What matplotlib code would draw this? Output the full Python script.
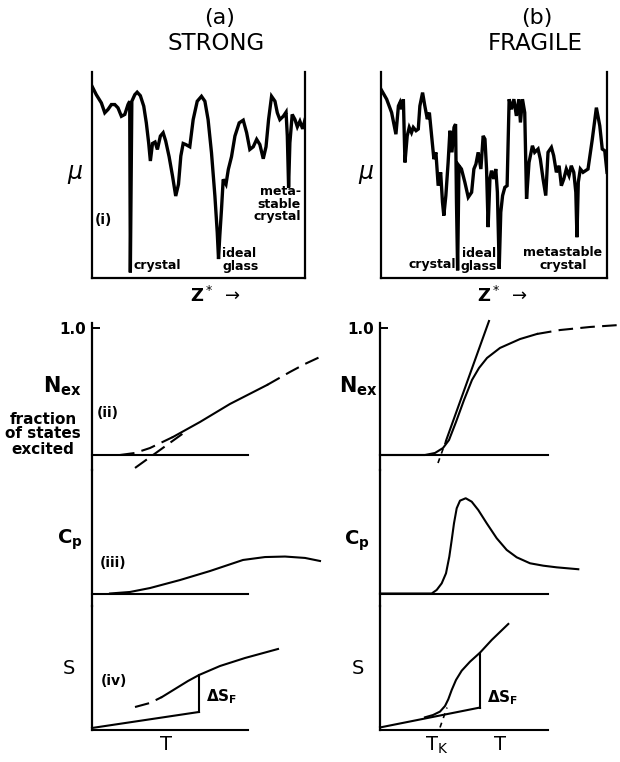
import matplotlib
matplotlib.use("Agg")
import matplotlib.pyplot as plt

W, H = 620, 762

# (i) energy landscapes: mu against configuration coordinate Z* (arbitrary 0-100 units)
strong_z = [0, 2.0, 4.4, 6.0, 7.5, 9.1, 10.7, 12.2, 13.8, 15.4, 16.9, 17.7, 18.0, 18.7,
            20.1, 21.2, 22.7, 24.3, 25.5, 26.6, 27.4, 28.4, 29.6, 30.7, 32.1, 33.4, 34.6,
            36.2, 37.8, 39.3, 40.6, 41.7, 42.8, 44.0, 45.9, 47.5, 49.4, 51.4, 53.0, 54.5,
            56.1, 57.7, 58.8, 59.4, 60.0, 60.8, 61.6, 62.9, 64.0, 65.5, 67.1, 69.1, 71.0,
            72.6, 74.1, 75.7, 77.3, 78.8, 80.4, 81.7, 82.9, 84.3, 85.9, 87.0, 88.2, 89.8,
            91.1, 91.7, 92.3, 92.9, 94.0, 95.3, 96.4, 97.6, 98.9, 100]
strong_mu = [93.1, 89.0, 85.0, 80.2, 81.8, 84.2, 84.2, 82.6, 78.5, 79.4, 84.2, 85.8, 2.7, 85.8,
             89.0, 90.2, 88.5, 83.4, 75.3, 65.6, 56.8, 65.3, 66.0, 62.4, 68.9, 70.5, 66.5,
             58.9, 49.5, 39.8, 45.5, 59.2, 65.3, 64.8, 63.7, 76.9, 85.8, 88.2, 85.8, 76.9,
             60.8, 39.8, 22.1, 9.2, 20.5, 33.4, 47.9, 45.5, 52.7, 58.9, 68.9, 75.3, 76.6,
             70.5, 62.4, 63.7, 67.3, 64.8, 57.9, 63.7, 76.9, 88.2, 85.8, 80.2, 76.9, 78.5,
             80.5, 68.9, 43.9, 65.6, 79.4, 76.9, 73.4, 76.1, 72.4, 76.9]

fragile_z = [0, 2.5, 4.7, 6.6, 7.7, 8.4, 9.1, 9.9, 10.6, 11.6, 12.5, 13.5, 14.3, 15.5, 16.5,
             17.2, 18.4, 19.4, 20.5, 21.4, 22.4, 23.4, 24.3, 25.3, 26.4, 27.2, 27.8, 28.7,
             29.7, 30.5, 31.4, 32.3, 33.0, 33.4, 33.9, 34.5, 35.6, 37.1, 38.6, 40.1, 41.1,
             42.0, 43.0, 44.2, 45.2, 46.0, 46.7, 47.4, 48.2, 48.9, 49.9, 50.8, 51.5, 52.3,
             53.0, 53.8, 54.8, 55.8, 56.7, 57.7, 58.8, 59.9, 61.0, 61.7, 62.6, 63.6, 64.4,
             65.5, 67.0, 68.0, 69.5, 70.5, 71.7, 72.9, 73.9, 75.4, 76.4, 77.6, 78.8, 79.8,
             80.9, 82.0, 83.2, 84.2, 85.3, 86.2, 86.7, 87.3, 88.2, 89.4, 91.6, 93.5, 95.3,
             96.8, 97.9, 99.0, 100]
fragile_mu = [91.6, 86.8, 80.3, 69.8, 83.5, 85.2, 81.9, 86.8, 56.1, 69.0, 73.1, 70.6, 73.1, 71.5,
              72.3, 83.5, 90.0, 83.5, 77.1, 80.3, 69.0, 57.7, 61.0, 44.8, 51.3, 36.8, 30.3,
              40.0, 56.1, 71.5, 61.0, 73.1, 74.7, 36.8, 3.7, 54.5, 52.9, 46.5, 39.2, 41.6,
              52.9, 55.3, 61.0, 52.9, 69.0, 67.4, 52.9, 24.7, 48.1, 52.1, 48.1, 52.9, 41.6,
              4.5, 31.9, 40.0, 44.0, 44.8, 86.8, 81.9, 86.8, 78.7, 86.8, 75.5, 86.8, 80.3,
              38.4, 56.1, 64.2, 61.0, 62.6, 57.7, 48.1, 40.0, 61.0, 63.4, 59.4, 51.3, 54.5,
              44.8, 48.1, 52.9, 49.7, 54.5, 51.3, 41.6, 19.8, 46.5, 52.9, 51.3, 52.9, 67.4,
              82.7, 73.9, 62.6, 61.8, 51.3]

# (ii) fraction of states excited vs T
strong_nex_T = [0.28, 0.43, 0.58, 0.81, 1.08, 1.38, 1.75, 1.98, 2.13, 2.28]
strong_nex = [0.0, 0.016, 0.055, 0.142, 0.260, 0.402, 0.551, 0.654, 0.717, 0.772]
strong_tan_T = [0.43, 0.93]
strong_tan = [-0.102, 0.181]

fragile_nex_T = [0, 0.45, 0.55, 0.63, 0.69, 0.76, 0.84, 0.92, 0.99, 1.07, 1.20, 1.40, 1.57,
                 1.80, 2.10, 2.40]
fragile_nex = [0, 0, 0.016, 0.055, 0.118, 0.260, 0.433, 0.591, 0.685, 0.764, 0.843, 0.913,
               0.953, 0.984, 1.008, 1.024]
fragile_tan_T = [0.58, 0.66, 1.09]
fragile_tan = [-0.063, 0.112, 1.055]

# (iii) heat capacity
strong_cp_T = [0.18, 0.38, 0.58, 0.88, 1.18, 1.51, 1.73, 1.93, 2.13, 2.28]
strong_cp = [0, 0.012, 0.043, 0.106, 0.177, 0.264, 0.287, 0.291, 0.280, 0.256]
fragile_cp_T = [0, 0.517, 0.567, 0.617, 0.66, 0.693, 0.717, 0.74, 0.767, 0.80, 0.857, 0.917,
                0.983, 1.067, 1.167, 1.267, 1.367, 1.50, 1.633, 1.767, 1.983]
fragile_cp = [0, 0, 0.028, 0.080, 0.159, 0.290, 0.421, 0.553, 0.671, 0.731, 0.750, 0.723,
              0.657, 0.553, 0.435, 0.343, 0.285, 0.238, 0.219, 0.206, 0.191]

# (iv) entropy
strong_s_low_T = [0, 1.07]
strong_s_low = [0.012, 0.138]
strong_s_T = [0.43, 0.58, 0.70, 0.83, 0.96, 1.07, 1.28, 1.53, 1.86]
strong_s = [0.177, 0.209, 0.256, 0.319, 0.382, 0.429, 0.500, 0.563, 0.634]

fragile_s_low_T = [0, 1.00]
fragile_s_low = [0.016, 0.173]
fragile_s_T = [0.45, 0.53, 0.60, 0.65, 0.683, 0.717, 0.76, 0.817, 0.90, 1.00, 1.117, 1.283]
fragile_s = [0.096, 0.114, 0.141, 0.185, 0.238, 0.311, 0.390, 0.463, 0.534, 0.605, 0.705, 0.831]
fragile_sk_T = [0.60, 0.67]
fragile_sk = [0.016, 0.173]

baseline_end = {"strong": 1.56, "fragile": 1.68}

plt.rcParams["font.family"] = "DejaVu Sans"
plt.rcParams["mathtext.fontset"] = "dejavusans"

fig = plt.figure(figsize=(W / 100, H / 100), dpi=100)


def box(x0, y0, x1, y1):
    return [x0 / W, 1 - y1 / H, (x1 - x0) / W, (y1 - y0) / H]


def put(x, y, s, size=11, weight="bold", ha="center", va="center", **kw):
    fig.text(x / W, 1 - y / H, s, fontsize=size, fontweight=weight, ha=ha, va=va, **kw)


def landscape(rect, z, mu):
    ax = fig.add_axes(rect)
    ax.plot(z, mu, color="black", lw=2.4, solid_joinstyle="miter")
    ax.set_xlim(0, 100)
    ax.set_ylim(0, 100)
    ax.spines["top"].set_visible(False)
    for s in ("left", "right", "bottom"):
        ax.spines[s].set_linewidth(1.6)
    ax.set_xticks([])
    ax.set_yticks([])
    ax.patch.set_alpha(0)
    return ax


def lower(x0, y0, y1, base_px, top_tick=False):
    ax = fig.add_axes(box(x0, y0, x0 + 240, y1))
    ax.set_xlim(0, 2.4)
    ax.set_ylim((base_px - y1) / 127, (base_px - y0) / 127)
    for s in ("top", "right", "bottom"):
        ax.spines[s].set_visible(False)
    ax.spines["left"].set_linewidth(1.6)
    ax.set_xticks([])
    if top_tick:
        ax.set_yticks([1.0])
        ax.set_yticklabels(["1.0"], fontsize=11, fontweight="bold")
        ax.tick_params(axis="y", direction="in", length=6, width=1.4, pad=4)
    else:
        ax.set_yticks([])
    ax.patch.set_alpha(0)
    return ax


K = dict(color="black", lw=1.5, clip_on=False)
D = dict(color="black", lw=1.5, clip_on=False, dashes=(7, 3.5))

# titles
put(220, 18, "(a)", size=16, weight="normal")
put(216, 43, "STRONG", size=16.5, weight="normal")
put(537, 18, "(b)", size=16, weight="normal")
put(535, 43, "FRAGILE", size=16.5, weight="normal")

# top landscapes
landscape(box(92, 72, 305, 278), strong_z, strong_mu)
landscape(box(381, 72, 607, 278), fragile_z, fragile_mu)
put(75, 174, r"$\mu$", size=17, weight="normal")
put(366, 174, r"$\mu$", size=17, weight="normal")
put(215, 296, r"Z$^*$ $\rightarrow$", size=13)
put(502, 296, r"Z$^*$ $\rightarrow$", size=13)
put(103, 220, "(i)", size=10)
put(133, 265, "crystal", size=9, ha="left")
put(222, 260, "ideal\nglass", size=9, ha="left", linespacing=0.95)
put(301, 204, "meta-\nstable\ncrystal", size=9, ha="right", linespacing=0.95)
put(456, 264, "crystal", size=9, ha="right")
put(479, 260, "ideal\nglass", size=9, linespacing=0.95)
put(563, 259, "metastable\ncrystal", size=9, linespacing=0.95)

# lower panels, one column per liquid
for name, x0 in (("strong", 92), ("fragile", 380)):
    a_n = lower(x0, 323, 470, 455, top_tick=True)
    a_c = lower(x0, 470, 606, 593.5)
    a_s = lower(x0, 606, 730, 729.5)
    for a in (a_n, a_c, a_s):
        a.plot([0, baseline_end[name]], [0, 0], **K)

    if name == "strong":
        a_n.plot(strong_nex_T[:4], strong_nex[:4], **D)
        a_n.plot(strong_nex_T[3:7], strong_nex[3:7], **K)
        a_n.plot(strong_nex_T[6:], strong_nex[6:], **D)
        a_n.plot(strong_tan_T, strong_tan, **D)
        a_c.plot(strong_cp_T, strong_cp, **K)
        a_s.plot(strong_s_low_T, strong_s_low, **K)
        a_s.plot([strong_s_low_T[-1]] * 2, [strong_s_low[-1], strong_s[5]], **K)
        a_s.plot(strong_s_T[:3], strong_s[:3], **D)
        a_s.plot(strong_s_T[2:], strong_s[2:], **K)
    else:
        a_n.plot(fragile_nex_T[:13], fragile_nex[:13], **K)
        a_n.plot(fragile_nex_T[12:], fragile_nex[12:], **D)
        a_n.plot(fragile_tan_T[:2], fragile_tan[:2], color="black", lw=1.2, dashes=(3, 3))
        a_n.plot(fragile_tan_T[1:], fragile_tan[1:], **K)
        a_c.plot(fragile_cp_T, fragile_cp, **K)
        a_s.plot(fragile_s_low_T, fragile_s_low, **K)
        a_s.plot([fragile_s_low_T[-1]] * 2, [fragile_s_low[-1], fragile_s[9]], **K)
        a_s.plot(fragile_s_T, fragile_s, **K)
        a_s.plot(fragile_sk_T, fragile_sk, color="black", lw=1.2, dashes=(3, 3))

# lower labels
put(62, 386, r"$\mathbf{N_{ex}}$", size=15)
put(43, 419, "fraction", size=11)
put(43, 434, "of states", size=11)
put(43, 450, "excited", size=11)
put(108, 413, "(ii)", size=10)
put(70, 540, r"$\mathbf{C_p}$", size=14)
put(113, 563, "(iii)", size=10)
put(69, 668, "S", size=14, weight="normal")
put(114, 681, "(iv)", size=10)
put(222, 697, r"$\mathbf{\Delta S_F}$", size=11)
put(166, 745, "T", size=14, weight="normal")

put(358, 386, r"$\mathbf{N_{ex}}$", size=15)
put(357, 541, r"$\mathbf{C_p}$", size=14)
put(358, 668, "S", size=14, weight="normal")
put(503, 698, r"$\mathbf{\Delta S_F}$", size=11)
put(437, 745, r"T$_\mathrm{K}$", size=14, weight="normal")
put(500, 744, "T", size=14, weight="normal")

fig.savefig("out.png", dpi=100)
